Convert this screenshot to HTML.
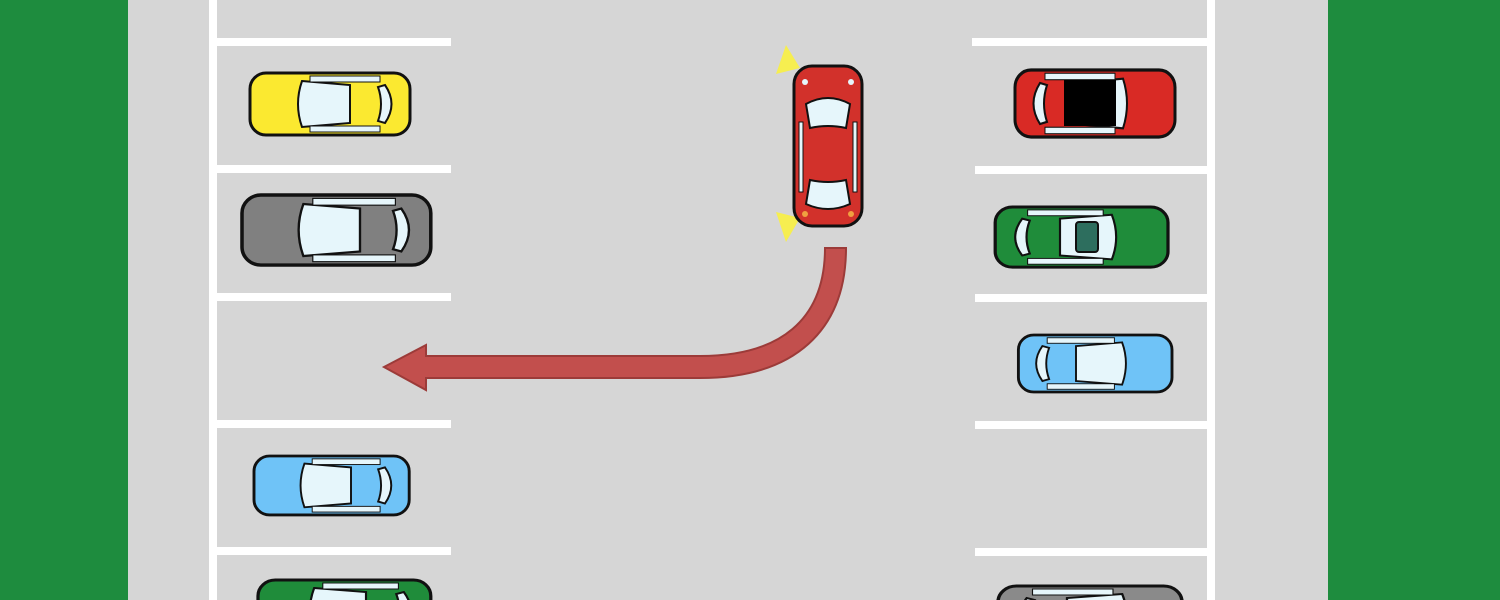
<!DOCTYPE html>
<html><head><style>
html,body{margin:0;padding:0;width:1500px;height:600px;overflow:hidden;background:#1e8c3e}
</style></head><body>
<svg width="1500" height="600" xmlns="http://www.w3.org/2000/svg">
<defs>
<g id="car">
 <rect x="0" y="0" width="160" height="62" rx="16" stroke="#111" stroke-width="3"/>
 <path d="M52 8 L100 12 L100 50 L52 54 Q44 31 52 8Z" fill="#e6f6fb" stroke="#111" stroke-width="2"/>
 <path d="M135 12 Q148 31 135 50 L128 48 Q134 31 128 14Z" fill="#e6f6fb" stroke="#111" stroke-width="2"/>
 <rect x="60" y="3" width="70" height="6" fill="#e6f6fb" stroke="#111" stroke-width="1"/>
 <rect x="60" y="53" width="70" height="6" fill="#e6f6fb" stroke="#111" stroke-width="1"/>
</g>
</defs>
<rect x="128" y="0" width="1200" height="600" fill="#d6d6d6"/>
<g fill="#ffffff">
 <rect x="209" y="0" width="8" height="600"/>
 <rect x="1207" y="0" width="8" height="600"/>
 <rect x="217" y="38" width="234" height="8"/>
 <rect x="217" y="165" width="234" height="8"/>
 <rect x="217" y="293" width="234" height="8"/>
 <rect x="217" y="420" width="234" height="8"/>
 <rect x="217" y="547" width="234" height="8"/>
 <rect x="972" y="38" width="235" height="8"/>
 <rect x="975" y="166" width="232" height="8"/>
 <rect x="975" y="294" width="232" height="8"/>
 <rect x="975" y="421" width="232" height="8"/>
 <rect x="975" y="548" width="232" height="8"/>
</g>
<use href="#car" transform="translate(250,73)" fill="#fbe930"/>
<use href="#car" transform="translate(242,195) scale(1.18,1.13)" fill="#808080"/>
<use href="#car" transform="translate(254,456) scale(0.97,0.95)" fill="#6fc3f7"/>
<use href="#car" transform="translate(258,580) scale(1.08,1)" fill="#1f8c3a"/>
<use href="#car" transform="translate(1175,70) scale(-1,1) scale(1.0,1.08)" fill="#d92a25"/>
<rect x="1064" y="80" width="52" height="46" fill="#000"/>
<use href="#car" transform="translate(1168,207) scale(-1,1) scale(1.08,0.97)" fill="#1f8c3a"/>
<rect x="1076" y="222" width="22" height="30" rx="3" fill="#2d6e5e" stroke="#111" stroke-width="2"/>
<use href="#car" transform="translate(1172,335) scale(-1,1) scale(0.96,0.92)" fill="#6fc3f7"/>
<use href="#car" transform="translate(1182,586) scale(-1,1) scale(1.15,1)" fill="#8a8a8a"/>
<!-- moving red car -->
<polygon points="786,45 800,68 776,74" fill="#f6ee50"/>
<polygon points="786,242 800,218 776,212" fill="#f6ee50"/>
<rect x="794" y="66" width="68" height="160" rx="18" fill="#d2312b" stroke="#111" stroke-width="3"/>
<path d="M806 104 Q828 92 850 104 L846 128 Q828 124 810 128Z" fill="#e6f6fb" stroke="#111" stroke-width="2"/>
<path d="M810 180 Q828 184 846 180 L850 204 Q828 214 806 204Z" fill="#e6f6fb" stroke="#111" stroke-width="2"/>
<rect x="799" y="122" width="4" height="70" fill="#e6f6fb" stroke="#111" stroke-width="1"/>
<rect x="853" y="122" width="4" height="70" fill="#e6f6fb" stroke="#111" stroke-width="1"/>
<circle cx="805" cy="82" r="3" fill="#e6f6fb"/><circle cx="851" cy="82" r="3" fill="#e6f6fb"/>
<circle cx="805" cy="214" r="3" fill="#f0a040"/><circle cx="851" cy="214" r="3" fill="#f0a040"/>
<!-- arrow -->
<path d="M825 248 C825 320 780 356 700 356 L426 356 L426 345 L384 367 L426 390 L426 378 L700 378 C795 378 846 330 846 248 Z" fill="#c24f4d" stroke="#9c3b39" stroke-width="2"/>
</svg>
</body></html>
